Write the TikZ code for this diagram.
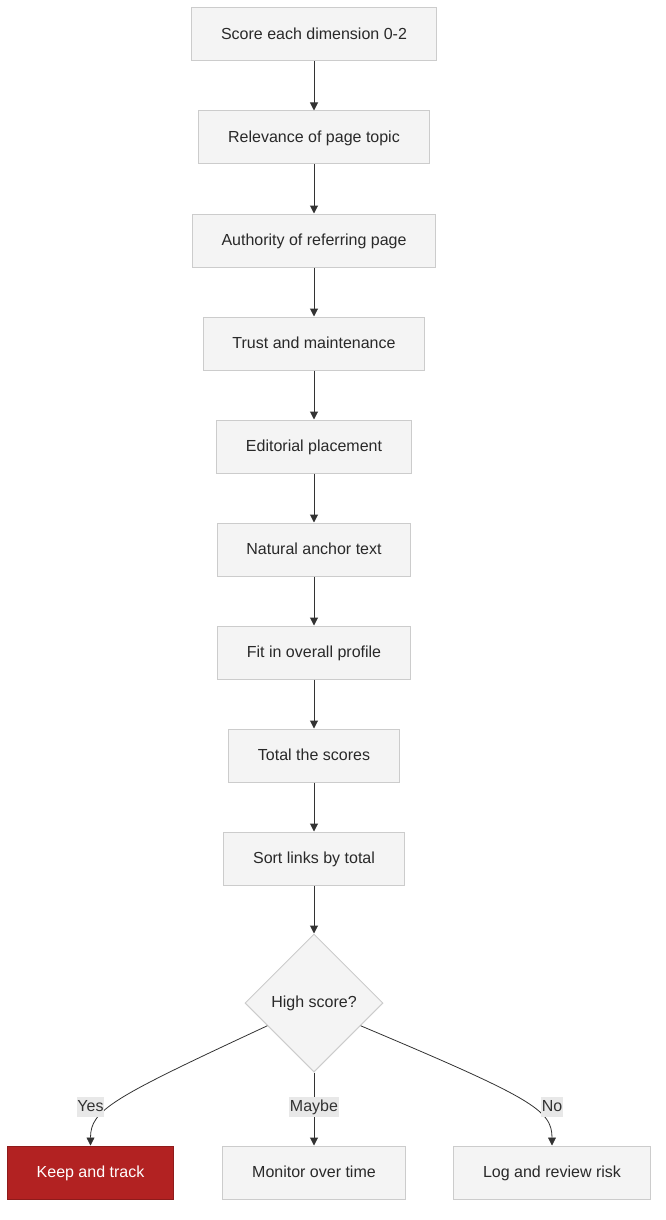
\documentclass[tikz,border=0pt]{standalone}
\usepackage{fontspec}
\setmainfont{Liberation Sans}
\usetikzlibrary{calc,shapes.geometric,arrows.meta}

\definecolor{boxfill}{HTML}{F4F4F4}
\definecolor{boxline}{HTML}{CCCCCC}
\definecolor{edgegray}{HTML}{333333}
\definecolor{keepred}{HTML}{B22222}
\definecolor{keepline}{HTML}{8E1B1B}
\definecolor{lblfill}{HTML}{E8E8E8}

\tikzset{
  stepbox/.style={rectangle, draw=boxline, fill=boxfill, line width=0.75pt,
    inner xsep=22pt, minimum height=39.75pt, text height=10pt, text depth=2.8pt,
    text=edgegray!80!black},
  keepbox/.style={stepbox, draw=keepline, fill=keepred, text=white},
  choice/.style={diamond, draw=boxline, fill=boxfill, line width=0.75pt,
    inner sep=0pt, minimum width=103.5pt, minimum height=103.5pt,
    text height=10pt, text depth=2.8pt, text=edgegray!80!black},
  flow/.style={->, draw=edgegray, line width=0.75pt},
  lbl/.style={fill=lblfill, inner xsep=0.5pt, inner ysep=1pt,
    text height=10pt, text depth=2.8pt, text=edgegray}
}

\begin{document}
\begin{tikzpicture}[x=0.75pt, y=-0.75pt, font=\fontsize{12}{14}\selectfont,
  >={Triangle[width=6pt,length=6pt]}]
\useasboundingbox (0,0) rectangle (666,1220);
%\draw (0,0) rectangle (666,1220);

\coordinate (score) at (314,34.5);
\coordinate (relev) at ($(score) + (0,103)$);
\coordinate (auth) at ($(relev) + (0,103)$);
\coordinate (trust) at ($(auth) + (0,103)$);
\coordinate (edit) at ($(trust) + (0,103)$);
\coordinate (anchor) at ($(edit) + (0,103)$);
\coordinate (fit) at ($(anchor) + (0,103)$);
\coordinate (total) at ($(fit) + (0,103)$);
\coordinate (sort) at ($(total) + (0,103)$);
\coordinate (high) at ($(sort) + (0,144.5)$);
\coordinate (monitor) at ($(high) + (0,169.5)$);
\coordinate (keep) at ($(monitor) + (-223.5,0)$);
\coordinate (logrisk) at ($(monitor) + (238,0)$);

\node (s1) [stepbox] at (score) {Score each dimension 0-2};
\node (s2) [stepbox] at (relev) {Relevance of page topic};
\node (s3) [stepbox] at (auth) {Authority of referring page};
\node (s4) [stepbox] at (trust) {Trust and maintenance};
\node (s5) [stepbox] at (edit) {Editorial placement};
\node (s6) [stepbox] at (anchor) {Natural anchor text};
\node (s7) [stepbox] at (fit) {Fit in overall profile};
\node (s8) [stepbox] at (total) {Total the scores};
\node (s9) [stepbox] at (sort) {Sort links by total};

\node (d) [choice] at (high) {High score?};

\node (k) [keepbox] at (keep) {Keep and track};
\node (m) [stepbox] at (monitor) {Monitor over time};
\node (l) [stepbox] at (logrisk) {Log and review risk};

\foreach \a/\b in {s1/s2, s2/s3, s3/s4, s4/s5, s5/s6, s6/s7, s7/s8, s8/s9, s9/d}
  \draw [flow] (\a) -- (\b);

\draw [flow, line width=0.6pt] (d.206) .. controls (112,1098) and (90.5,1110) .. (k.north);
\draw [flow] (d) -- (m);
\draw [flow, line width=0.6pt] (d.-26) .. controls (532,1098) and (552,1110) .. (l.north);

\node (yes) [lbl] at (90.5,1107) {Yes};
\node (maybe) [lbl] at (314,1107) {Maybe};
\node (no) [lbl] at (552,1107) {No};

\end{tikzpicture}
\end{document}
